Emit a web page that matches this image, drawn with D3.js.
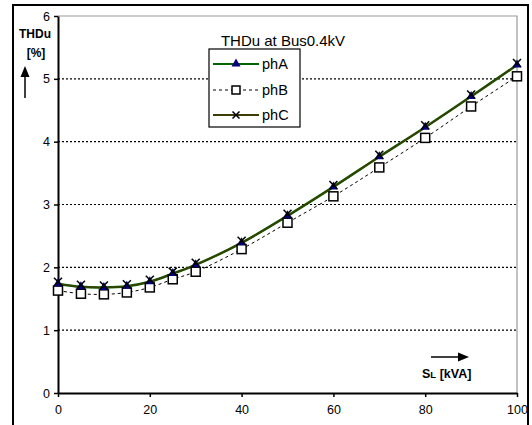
<!DOCTYPE html>
<html>
<head>
<meta charset="utf-8">
<script src="https://cdn.jsdelivr.net/npm/d3@7"></script>
<style>
  body { margin: 0; background: #fff; }
  svg { font-family: "Liberation Sans", Arial, sans-serif; }
</style>
</head>
<body>
<div id="chart"></div>
<script>
const loads = [0, 5, 10, 15, 20, 25, 30, 40, 50, 60, 70, 80, 90, 100];
const phA = [1.74, 1.69, 1.68, 1.70, 1.77, 1.90, 2.04, 2.39, 2.82, 3.28, 3.76, 4.23, 4.72, 5.22];
const phB = [1.63, 1.58, 1.57, 1.60, 1.68, 1.81, 1.93, 2.29, 2.71, 3.13, 3.59, 4.06, 4.56, 5.04];
const phC = [1.74, 1.69, 1.68, 1.70, 1.77, 1.90, 2.04, 2.39, 2.82, 3.28, 3.76, 4.23, 4.72, 5.22];
const xTicks = [0, 20, 40, 60, 80, 100];
const yTicks = [0, 1, 2, 3, 4, 5, 6];

class Chart {
    constructor(root) {
        this.width = 532;
        this.height = 425;
        this.svg = d3.select(root).append("svg")
            .attr("width", this.width)
            .attr("height", this.height);
        this.x = d3.scaleLinear().domain([0, 100]).range([58, 517]);
        this.y = d3.scaleLinear().domain([0, 6]).range([393, 16]);
    }

    drawFrame() {
        var svg = this.svg, x = this.x, y = this.y;
        //outer border
        svg.append("rect")
            .attr("x", 13).attr("y", 5)
            .attr("width", 515).attr("height", 430)
            .attr("fill", "none").attr("stroke", "#000").attr("stroke-width", 2);

        //grid
        svg.append("g").selectAll("line")
            .data(yTicks.filter(d => d > 0 && d < 6))
            .enter().append("line")
            .attr("x1", x(0)).attr("x2", x(100))
            .attr("y1", d => y(d)).attr("y2", d => y(d))
            .attr("stroke", "#000").attr("stroke-width", 1.2)
            .attr("stroke-dasharray", "2,2");

        //plot area top/right
        svg.append("path")
            .attr("d", `M${x(0)},${y(6)}H${x(100)}V${y(0)}`)
            .attr("fill", "none").attr("stroke", "#999").attr("stroke-width", 1.2);

        var xAxis = svg.append("g")
            .attr("transform", `translate(0,${y(0)})`)
            .call(d3.axisBottom(x).tickValues(xTicks).tickFormat(d3.format("d"))
                .tickSize(4).tickSizeOuter(0).tickPadding(8));
        var yAxis = svg.append("g")
            .attr("transform", `translate(${x(0)},0)`)
            .call(d3.axisLeft(y).tickValues(yTicks).tickFormat(d3.format("d"))
                .tickSize(4).tickSizeOuter(0).tickPadding(4));
        [xAxis, yAxis].forEach(a => {
            a.select(".domain").attr("stroke-width", 2);
            a.selectAll(".tick line").attr("stroke-width", 1.5);
            a.selectAll("text").attr("font-size", 12.5).attr("fill", "#000")
                .attr("font-family", "Liberation Sans, Arial, sans-serif");
        });
    }

    drawLabels() {
        var svg = this.svg;
        svg.append("text").attr("x", 35).attr("y", 38)
            .attr("text-anchor", "middle").attr("font-size", 12).attr("font-weight", "bold")
            .text("THDu");
        svg.append("text").attr("x", 36).attr("y", 57)
            .attr("text-anchor", "middle").attr("font-size", 12).attr("font-weight", "bold")
            .text("[%]");
        svg.append("line").attr("x1", 25).attr("x2", 25).attr("y1", 98).attr("y2", 75)
            .attr("stroke", "#000").attr("stroke-width", 1.5);
        svg.append("path").attr("d", "M25,66L29.5,77L20.5,77Z").attr("fill", "#000");

        var xl = svg.append("text").attr("x", 422).attr("y", 378)
            .attr("font-size", 12.5).attr("font-weight", "bold");
        xl.append("tspan").text("S");
        xl.append("tspan").attr("font-size", 9.5).text("L");
        xl.append("tspan").text(" [kVA]");
        svg.append("line").attr("x1", 431).attr("x2", 460).attr("y1", 357).attr("y2", 357)
            .attr("stroke", "#000").attr("stroke-width", 1.5);
        svg.append("path").attr("d", "M469,357L458,352.5L458,361.5Z").attr("fill", "#000");
    }

    drawSeries() {
        var svg = this.svg, x = this.x, y = this.y;
        var line = d3.line()
            .x(d => x(d[0])).y(d => y(d[1]))
            .curve(d3.curveCatmullRom.alpha(0.5));
        var zip = vals => loads.map((l, i) => [l, vals[i]]);

        svg.append("path").datum(zip(phB)).attr("d", line)
            .attr("fill", "none").attr("stroke", "#000").attr("stroke-width", 1)
            .attr("stroke-dasharray", "3,3");
        svg.append("path").datum(zip(phA)).attr("d", line)
            .attr("fill", "none").attr("stroke", "#006400").attr("stroke-width", 2.5);
        svg.append("path").datum(zip(phC)).attr("d", line)
            .attr("fill", "none").attr("stroke", "#3d3d00").attr("stroke-width", 1.6);

        //markers
        svg.append("g").selectAll("rect").data(zip(phB)).enter().append("rect")
            .attr("x", d => x(d[0]) - 4.5).attr("y", d => y(d[1]) - 4.5)
            .attr("width", 9).attr("height", 9)
            .attr("fill", "#fff").attr("stroke", "#000").attr("stroke-width", 1.5);
        svg.append("g").selectAll("path").data(zip(phA)).enter().append("path")
            .attr("transform", d => `translate(${x(d[0])},${y(d[1]) - 1})`)
            .attr("d", "M0,-4.5L4.5,3.5L-4.5,3.5Z").attr("fill", "#000080");
        svg.append("g").selectAll("path").data(zip(phC)).enter().append("path")
            .attr("transform", d => `translate(${x(d[0])},${y(d[1]) - 2})`)
            .attr("d", "M-4,-4L4,4M-4,4L4,-4")
            .attr("stroke", "#000").attr("stroke-width", 1.5);
    }

    drawLegend() {
        var svg = this.svg;
        svg.append("text").attr("x", 283).attr("y", 46)
            .attr("text-anchor", "middle").attr("font-size", 15)
            .text("THDu at Bus0.4kV");
        svg.append("rect").attr("x", 209).attr("y", 49)
            .attr("width", 91).attr("height", 78)
            .attr("fill", "#fff").attr("stroke", "#000").attr("stroke-width", 1.2);
        var items = [
            {name: "phA", y: 64},
            {name: "phB", y: 90},
            {name: "phC", y: 115}
        ];
        var g = svg.append("g");
        g.append("line").attr("x1", 213).attr("x2", 259).attr("y1", 64).attr("y2", 64)
            .attr("stroke", "#006400").attr("stroke-width", 2);
        g.append("path").attr("transform", "translate(236,63)")
            .attr("d", "M0,-4.5L4.5,3.5L-4.5,3.5Z").attr("fill", "#000080");
        g.append("line").attr("x1", 213).attr("x2", 259).attr("y1", 90).attr("y2", 90)
            .attr("stroke", "#000").attr("stroke-width", 1).attr("stroke-dasharray", "3,3");
        g.append("rect").attr("x", 232).attr("y", 86).attr("width", 8).attr("height", 8)
            .attr("fill", "#fff").attr("stroke", "#000").attr("stroke-width", 1.5);
        g.append("line").attr("x1", 213).attr("x2", 259).attr("y1", 115).attr("y2", 115)
            .attr("stroke", "#3d3d00").attr("stroke-width", 2);
        g.append("path").attr("transform", "translate(236,115)")
            .attr("d", "M-3.5,-3.5L3.5,3.5M-3.5,3.5L3.5,-3.5")
            .attr("stroke", "#000").attr("stroke-width", 1.5);
        g.selectAll("text").data(items).enter().append("text")
            .attr("x", 262).attr("y", d => d.y + 5)
            .attr("font-size", 14.5).text(d => d.name);
    }
}

var chart = new Chart("#chart");
chart.drawFrame();
chart.drawSeries();
chart.drawLegend();
chart.drawLabels();
</script>
</body>
</html>
